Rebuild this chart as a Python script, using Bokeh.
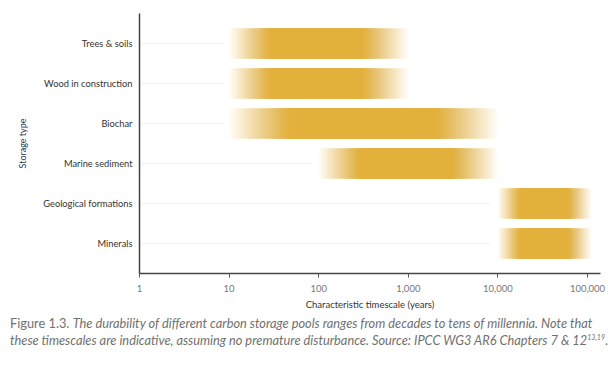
import numpy as np
from bokeh.plotting import figure
from bokeh.models import Range1d, FactorRange, FixedTicker, Div, ColumnDataSource
from bokeh.layouts import column
from bokeh.embed import file_html
from bokeh.resources import INLINE

# ---- data ----
categories = ["Trees & soils", "Wood in construction", "Biochar",
              "Marine sediment", "Geological formations", "Minerals"]
range_start = [10, 10, 10, 100, 10000, 10000]          # faded start
core_start = [30, 30, 50, 300, 18000, 18000]            # solid from
core_end = [300, 300, 2000, 3000, 60000, 60000]         # solid to
range_end = [1000, 1000, 10000, 10000, 110000, 110000]  # faded end
x_ticks = [1, 10, 100, 1000, 10000, 100000]
x_tick_labels = ["1", "10", "100", "1,000", "10,000", "100,000"]

GOLD = "#E3B03B"
FONT = "Lato"

p = figure(width=606, height=313, output_backend="svg", toolbar_location=None,
           x_axis_type="log", x_range=Range1d(1, 10 ** 5.145),
           y_range=FactorRange(factors=categories[::-1], range_padding=0.25,
                               range_padding_units="absolute"),
           min_border_left=139, min_border_right=6, min_border_top=13,
           min_border_bottom=40)
p.outline_line_color = None
p.xgrid.visible = False
p.ygrid.visible = False

# dotted guide lines from the axis to each bar start
p.segment(x0=[1] * len(categories), x1=[s / 10 ** 0.08 for s in range_start],
          y0=categories, y1=categories, line_color="#d8d8d8",
          line_dash="1 2", line_width=1)

# gradient bars: stacked translucent layers, each narrower than the last
N = 26
ys, lefts, rights, alphas = [], [], [], []
for c, a, b, cc, d in zip(categories, range_start, core_start, core_end, range_end):
    la, lb, lc, ld = np.log10([a, b, cc, d])
    for k in range(1, N + 1):
        ys.append(c)
        lefts.append(10 ** (la + (lb - la) * (k - 1) / N))
        rights.append(10 ** (ld - (ld - lc) * (k - 1) / N))
        alphas.append(1.0 / (N - k + 1))

src = ColumnDataSource(dict(y=ys, left=lefts, right=rights, alpha=alphas))
p.hbar(y="y", left="left", right="right", height=0.76, source=src,
       fill_color=GOLD, fill_alpha="alpha", line_color=None)

# axes
xa = p.xaxis[0]
xa.ticker = FixedTicker(ticks=x_ticks)
xa.major_label_overrides = {t: l for t, l in zip(x_ticks, x_tick_labels)}
xa.minor_tick_line_color = None
xa.major_tick_in = 0
xa.major_tick_out = 4
xa.major_tick_line_color = "#555555"
xa.axis_line_color = "#444444"
xa.axis_line_width = 1.5
xa.major_label_text_font = FONT
xa.major_label_text_font_size = "9.5px"
xa.major_label_text_color = "#777777"
xa.major_label_standoff = 7
xa.axis_label = "Characteristic timescale (years)"
xa.axis_label_text_font = FONT
xa.axis_label_text_font_size = "9.5px"
xa.axis_label_text_font_style = "normal"
xa.axis_label_text_color = "#333333"
xa.axis_label_standoff = 4

ya = p.yaxis[0]
ya.major_tick_line_color = None
ya.minor_tick_line_color = None
ya.axis_line_color = "#444444"
ya.axis_line_width = 1.5
ya.major_label_text_font = FONT
ya.major_label_text_font_size = "9.3px"
ya.major_label_text_color = "#333333"
ya.major_label_standoff = 1
ya.axis_label = "Storage type"
ya.axis_label_text_font = FONT
ya.axis_label_text_font_size = "9px"
ya.axis_label_text_font_style = "normal"
ya.axis_label_text_color = "#2a3550"
ya.axis_label_standoff = 12

line_style = "white-space:nowrap;height:17px;line-height:17px;"
caption = Div(
    text=('<div style="font-family:Lato;font-size:12.8px;color:#707070;">'
          f'<div style="{line_style}"><span>Figure 1.3. </span>'
          '<span style="font-style:italic;">The durability of different carbon storage '
          'pools ranges from decades to tens of millennia. Note that</span></div>'
          f'<div style="{line_style}"><span style="font-style:italic;">these timescales '
          'are indicative, assuming no premature disturbance. Source: IPCC WG3 AR6 '
          'Chapters 7 &amp; 12</span><span style="font-style:italic;font-size:7px;'
          'vertical-align:super;line-height:0;">13,19</span><span>.</span></div>'
          '</div>'),
    width=590, height=40, styles={"margin-top": "2px", "margin-left": "10px"})

layout = column(p, caption)
open("out.html", "w").write(file_html(layout, INLINE))
